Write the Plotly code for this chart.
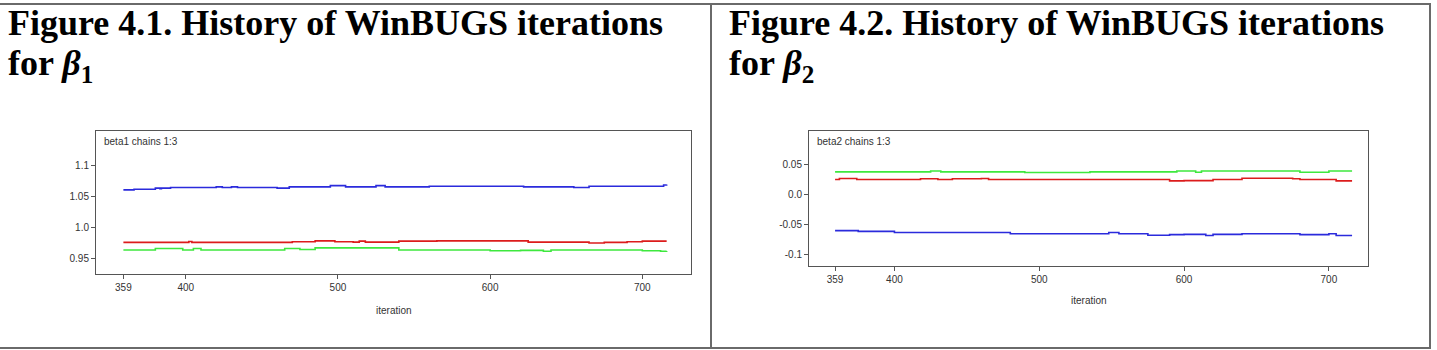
import plotly.graph_objects as go

# ---- data (step-change points) ----
b1_blue_it = [359, 366, 380, 383, 384, 390, 420, 424, 430, 434, 460, 468, 495, 505, 525, 531, 560, 622, 655, 665, 714, 716]
b1_blue_v = [1.061, 1.062, 1.064, 1.063, 1.064, 1.065, 1.066, 1.065, 1.066, 1.065, 1.064, 1.066, 1.068, 1.066, 1.068, 1.066, 1.067, 1.066, 1.065, 1.067, 1.069, 1.070]

b1_red_it = [359, 402, 404, 470, 485, 498, 510, 514, 518, 540, 565, 625, 665, 675, 690, 700, 716]
b1_red_v = [0.9755, 0.977, 0.9755, 0.9765, 0.978, 0.9765, 0.976, 0.9775, 0.976, 0.9775, 0.978, 0.976, 0.9745, 0.9755, 0.9765, 0.9775, 0.9775]

b1_green_it = [359, 380, 398, 405, 410, 465, 475, 485, 540, 600, 620, 635, 640, 700, 712, 716]
b1_green_v = [0.963, 0.9655, 0.963, 0.9655, 0.963, 0.9655, 0.964, 0.9665, 0.963, 0.962, 0.9625, 0.961, 0.963, 0.962, 0.961, 0.9615]

b2_green_it = [359, 425, 432, 490, 535, 595, 608, 612, 625, 680, 700, 716]
b2_green_v = [0.0376, 0.039, 0.0376, 0.0365, 0.0376, 0.039, 0.037, 0.039, 0.039, 0.037, 0.039, 0.039]

b2_red_it = [359, 362, 374, 418, 430, 440, 460, 465, 590, 600, 620, 640, 675, 680, 705, 716]
b2_red_v = [0.0247, 0.0265, 0.0247, 0.026, 0.0247, 0.026, 0.0265, 0.0247, 0.0225, 0.023, 0.0247, 0.027, 0.026, 0.0247, 0.0225, 0.0225]

b2_blue_it = [359, 375, 400, 480, 548, 555, 575, 590, 600, 615, 620, 640, 680, 700, 705, 716]
b2_blue_v = [-0.0607, -0.062, -0.064, -0.066, -0.064, -0.066, -0.0685, -0.0675, -0.067, -0.069, -0.067, -0.066, -0.0675, -0.066, -0.069, -0.069]

x_ticks = [359, 400, 500, 600, 700]
y1_ticks = [0.95, 1.0, 1.05, 1.1]
y1_labels = ["0.95", "1.0", "1.05", "1.1"]
y2_ticks = [-0.1, -0.05, 0.0, 0.05]
y2_labels = ["-0.1", "-0.05", "0.0", "0.05"]

title_line1 = ["Figure 4.1. History of WinBUGS iterations", "Figure 4.2. History of WinBUGS iterations"]
title_line2 = ["for <i>β</i><sub>1</sub>", "for <i>β</i><sub>2</sub>"]
box_labels = ["beta1 chains 1:3", "beta2 chains 1:3"]

BLUE = "#2b2bdc"
RED = "#dc1c1c"
GREEN = "#3ee83e"

W, H = 1437, 350
fig = go.Figure()

def add(it, v, color, xa, ya):
    fig.add_trace(go.Scatter(x=it, y=v, mode="lines", line=dict(color=color, width=1.6, shape="hv"),
                             xaxis=xa, yaxis=ya, showlegend=False, hoverinfo="skip"))

add(b1_blue_it, b1_blue_v, BLUE, "x", "y")
add(b1_red_it, b1_red_v, RED, "x", "y")
add(b1_green_it, b1_green_v, GREEN, "x", "y")
add(b2_green_it, b2_green_v, GREEN, "x2", "y2")
add(b2_red_it, b2_red_v, RED, "x2", "y2")
add(b2_blue_it, b2_blue_v, BLUE, "x2", "y2")

tickfont = dict(family="Liberation Sans, Arial", size=10, color="#333")
axis_common = dict(showgrid=False, zeroline=False, showline=True, linecolor="#555", linewidth=1,
                   mirror=True, ticks="outside", ticklen=4, tickcolor="#555", tickfont=tickfont)

def px_x(a, b):
    return [a / W, b / W]

def px_y(top, bottom):
    return [1 - bottom / H, 1 - top / H]

fig.update_layout(
    width=W, height=H, margin=dict(l=0, r=0, t=0, b=0),
    paper_bgcolor="white", plot_bgcolor="white",
    xaxis=dict(domain=px_x(96, 691), range=[341, 732], tickvals=x_ticks, anchor="y", **axis_common),
    yaxis=dict(domain=px_y(131, 274), range=[0.924, 1.157], tickvals=y1_ticks, ticktext=y1_labels, anchor="x", **axis_common),
    xaxis2=dict(domain=px_x(809, 1368), range=[341, 727], tickvals=x_ticks, anchor="y2", **axis_common),
    yaxis2=dict(domain=px_y(131, 266), range=[-0.12, 0.106], tickvals=y2_ticks, ticktext=y2_labels, anchor="x2", **axis_common),
)

ann = []
tfont = dict(family="Liberation Serif, Times New Roman", size=36, color="#000")
for i, x0 in enumerate([6, 727]):
    ann.append(dict(text="<b>" + title_line1[i] + "</b>", x=x0 / W, y=1 - 1 / H, xref="paper", yref="paper",
                    xanchor="left", yanchor="top", showarrow=False, align="left", font=tfont))
    ann.append(dict(text="<b>" + title_line2[i] + "</b>", x=x0 / W, y=1 - 41 / H, xref="paper", yref="paper",
                    xanchor="left", yanchor="top", showarrow=False, align="left", font=tfont))
sfont = dict(family="Liberation Sans, Arial", size=10, color="#333")
ann.append(dict(text=box_labels[0], x=102 / W, y=1 - 134 / H, xref="paper", yref="paper", xanchor="left", yanchor="top",
                showarrow=False, font=sfont))
ann.append(dict(text=box_labels[1], x=815 / W, y=1 - 134 / H, xref="paper", yref="paper", xanchor="left", yanchor="top",
                showarrow=False, font=sfont))
ann.append(dict(text="iteration", x=(96 + 691) / 2 / W, y=1 - 310 / H, xref="paper", yref="paper", xanchor="center",
                yanchor="middle", showarrow=False, font=sfont))
ann.append(dict(text="iteration", x=(809 + 1368) / 2 / W, y=1 - 300 / H, xref="paper", yref="paper", xanchor="center",
                yanchor="middle", showarrow=False, font=sfont))
fig.update_layout(annotations=ann)

# panel frame lines
shapes = []
lc = dict(color="#6a6a6a", width=2)
for (x0, y0, x1, y1) in [(0, 4, 1431, 4), (0, 348, 1431, 348), (711, 4, 711, 348), (1430, 4, 1430, 348)]:
    shapes.append(dict(type="line", xref="paper", yref="paper", x0=x0 / W, x1=x1 / W,
                       y0=1 - y0 / H, y1=1 - y1 / H, line=lc))
fig.update_layout(shapes=shapes)

fig.write_html("out.html")
